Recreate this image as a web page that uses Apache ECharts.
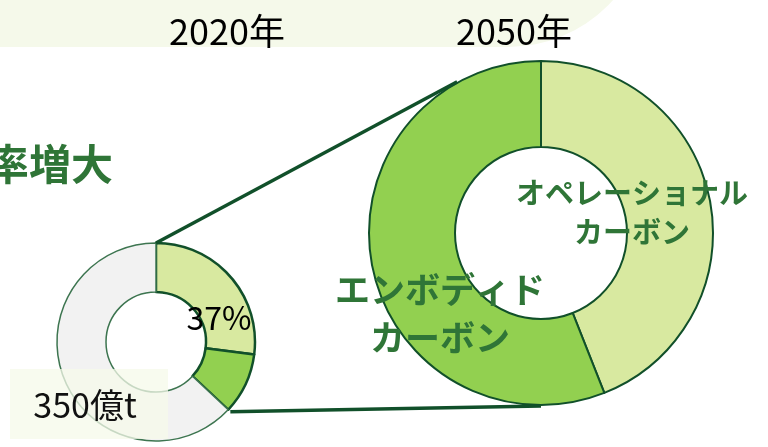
<!DOCTYPE html>
<html><head><meta charset="utf-8">
<script src="https://cdn.jsdelivr.net/npm/echarts@6/dist/echarts.min.js"></script>
<style>html,body{margin:0;padding:0;background:#fff}#c{width:768px;height:447px}</style>
</head><body><div id="c"></div>
<script>
// Data
const years = ['2020年', '2050年'];
const cats2020 = ['オペレーショナルカーボン', 'エンボディドカーボン', 'その他'];
const vals2020 = [27, 10, 63];
const cats2050 = ['オペレーショナルカーボン', 'エンボディドカーボン'];
const vals2050 = [44, 56];
const shareLabel = '37%';
const totalLabel = '350億t';
const headLabel = '率増大';
const opLabel = 'オペレーショナル\nカーボン';
const emLabel = 'エンボディド\nカーボン';

const FONT = '"Noto Sans CJK JP", "Noto Sans", sans-serif';
const cLight = '#d8e9a0', cMid = '#92d050', cGrey = '#f2f2f2', cLine = '#11502a', cText = '#2f7537';

const sC = [156, 342], sR = [50, 99];
const bC = [541, 233], bR = [86, 172];

function pt(c, r, deg) { const a = deg * Math.PI / 180; return [c[0] + r * Math.sin(a), c[1] - r * Math.cos(a)]; }
const tot20 = vals2020.reduce((a, b) => a + b, 0);
const endAng = (vals2020[0] + vals2020[1]) / tot20 * 360;
const p1 = pt(sC, sR[1], 0), p2 = pt(bC, bR[1] + 1, -29);
const p3 = pt(sC, sR[1] + 3, endAng), p4 = pt(bC, bR[1] + 1, 180);

const chart = echarts.init(document.getElementById('c'), null, { renderer: 'canvas' });
chart.setOption({
  animation: false,
  backgroundColor: '#fff',
  graphic: [
    { type: 'rect', z: -10, silent: true, shape: { x: -20, y: -300, width: 669, height: 347, r: [0, 0, 141, 0] }, style: { fill: '#f5f9ea' } },
    { type: 'text', z: 50, style: { text: years[0], x: 227, y: 31, align: 'center', verticalAlign: 'middle', font: '36px ' + FONT, fill: '#000' } },
    { type: 'text', z: 50, style: { text: years[1], x: 514, y: 31, align: 'center', verticalAlign: 'middle', font: '36px ' + FONT, fill: '#000' } },
    { type: 'text', z: 50, style: { text: headLabel, x: 113, y: 164, align: 'right', verticalAlign: 'middle', font: 'bold 42px ' + FONT, fill: cText } },
    { type: 'line', z: 40, shape: { x1: p1[0], y1: p1[1], x2: p2[0], y2: p2[1] }, style: { stroke: cLine, lineWidth: 3.5 } },
    { type: 'line', z: 40, shape: { x1: p3[0], y1: p3[1], x2: p4[0], y2: p4[1] }, style: { stroke: cLine, lineWidth: 3.5 } },
    { type: 'rect', z: 45, shape: { x: 10, y: 369, width: 158, height: 70 }, style: { fill: '#f5f9ea', opacity: 0.75 } },
    { type: 'text', z: 50, style: { text: totalLabel, x: 85, y: 405, align: 'center', verticalAlign: 'middle', font: '34px ' + FONT, fill: '#111' } },
    { type: 'text', z: 50, style: { text: shareLabel, x: 219, y: 318, align: 'center', verticalAlign: 'middle', font: '32px ' + FONT, fill: '#000' } },
    { type: 'text', z: 50, style: { text: opLabel, x: 632, y: 212, align: 'center', verticalAlign: 'middle', lineHeight: 39, font: 'bold 29px ' + FONT, fill: cText } },
    { type: 'text', z: 50, style: { text: emLabel, x: 440, y: 314, align: 'center', verticalAlign: 'middle', lineHeight: 48, font: 'bold 35px ' + FONT, fill: cText } }
  ],
  series: [
    {
      type: 'pie', silent: true, center: sC, radius: sR, startAngle: 90, clockwise: true,
      label: { show: false }, labelLine: { show: false },
      data: cats2020.map((n, i) => ({
        name: n, value: vals2020[i],
        itemStyle: { color: [cLight, cMid, cGrey][i], borderColor: i < 2 ? cLine : '#3d7550', borderWidth: i < 2 ? 2.5 : 1.5 }
      }))
    },
    {
      type: 'pie', silent: true, center: bC, radius: bR, startAngle: 90, clockwise: true,
      label: { show: false }, labelLine: { show: false },
      data: cats2050.map((n, i) => ({
        name: n, value: vals2050[i],
        itemStyle: { color: [cLight, cMid][i], borderColor: cLine, borderWidth: 2 }
      }))
    }
  ]
});
</script></body></html>
